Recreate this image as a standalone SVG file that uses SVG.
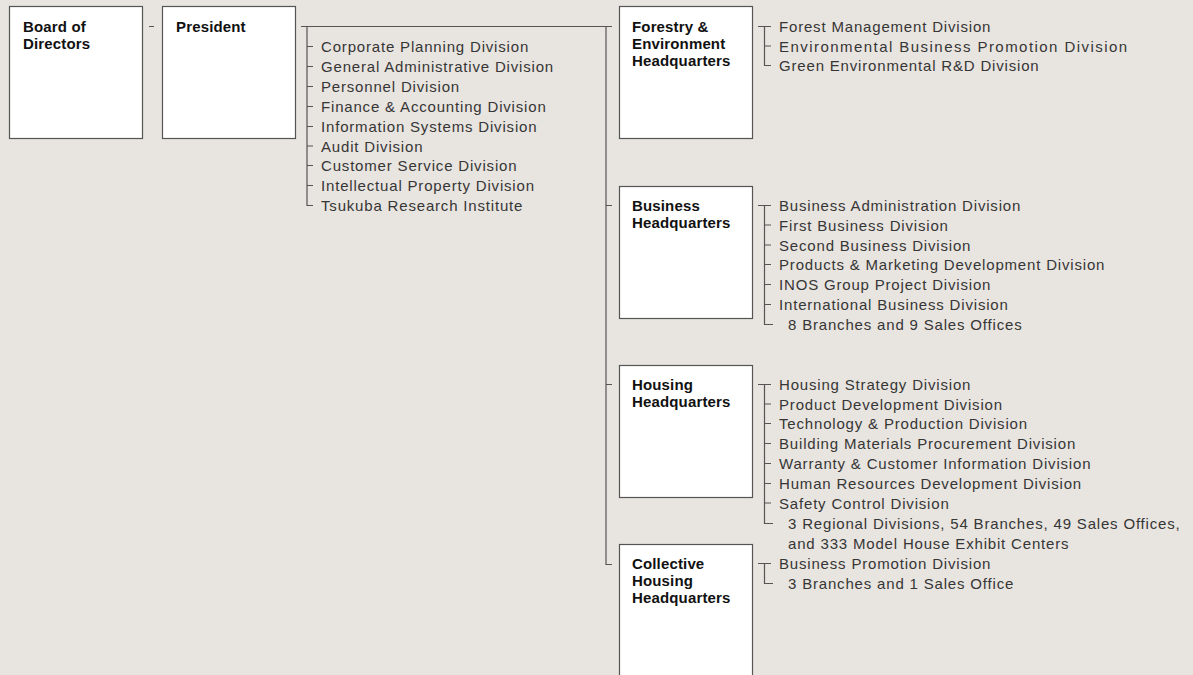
<svg xmlns="http://www.w3.org/2000/svg" width="1193" height="675" viewBox="0 0 1193 675">
<style>
.bg{fill:#e8e4df}
.box{fill:#ffffff;stroke:#555555;stroke-width:1.2}
.t{font-family:"Liberation Sans",Arial,sans-serif;font-size:15px;font-weight:bold;fill:#111111;letter-spacing:0.15px}
.d{font-family:"Liberation Sans",Arial,sans-serif;font-size:15px;fill:#363636;letter-spacing:0.82px}
.ln{fill:none;stroke:#555555;stroke-width:1.2}
</style>
<rect class="bg" x="0" y="0" width="1193" height="675"/>
<g id="connectors">
<path class="ln" d="M10,26.5H14.5 M149,26.5H154 M163,26.5H167.5"/>
<path class="ln" d="M301,26.5H612 M307,26.5V205.5H313 M307,46.5H313 M307,66.5H313 M307,86.5H313 M307,106.5H313 M307,126.5H313 M307,146H313 M307,165.5H313 M307,185.5H313"/>
<path class="ln" d="M606,26.5V564.5H612 M606,205.5H612 M606,384.5H612"/>
<path class="ln" d="M621,26.5H625.5 M621,205.5H625.5 M621,384.5H625.5 M621,564.5H625.5"/>
<path class="ln" d="M758,26.5H771 M764.5,26.5V65.5H771 M764.5,46H771"/>
<path class="ln" d="M758,205.5H771 M764.5,205.5V324.5H773 M764.5,225H771 M764.5,245H771 M764.5,264.5H771 M764.5,284.5H771 M764.5,304.5H771"/>
<path class="ln" d="M758,384.5H771 M764.5,384.5V523.5H773 M764.5,404H771 M764.5,423.5H771 M764.5,443.5H771 M764.5,463.5H771 M764.5,483.5H771 M764.5,503H771"/>
<path class="ln" d="M758,563.5H771 M764.5,563.5V583.5H773"/>
</g>
<g id="board">
<rect class="box" x="9.5" y="6.5" width="133" height="132"/>
<text class="t" x="23" y="32">Board of</text>
<text class="t" x="23" y="49">Directors</text>
</g>
<g id="president">
<rect class="box" x="162.5" y="6.5" width="133" height="132"/>
<text class="t" x="176" y="32">President</text>
</g>
<g id="corporate-divisions">
<text class="d" x="321" y="52">Corporate Planning Division</text>
<text class="d" x="321" y="72">General Administrative Division</text>
<text class="d" x="321" y="92">Personnel Division</text>
<text class="d" x="321" y="112">Finance &amp; Accounting Division</text>
<text class="d" x="321" y="132">Information Systems Division</text>
<text class="d" x="321" y="151.5">Audit Division</text>
<text class="d" x="321" y="171">Customer Service Division</text>
<text class="d" x="321" y="191">Intellectual Property Division</text>
<text class="d" x="321" y="211">Tsukuba Research Institute</text>
</g>
<g id="forestry">
<rect class="box" x="619.5" y="6.5" width="133" height="132"/>
<text class="t" x="632" y="32">Forestry &amp;</text>
<text class="t" x="632" y="49">Environment</text>
<text class="t" x="632" y="66">Headquarters</text>
</g>
<g id="forestry-divisions">
<text class="d" x="779" y="32">Forest Management Division</text>
<text class="d" x="779" y="51.5" textLength="349" lengthAdjust="spacing">Environmental Business Promotion Division</text>
<text class="d" x="779" y="71">Green Environmental R&amp;D Division</text>
</g>
<g id="business">
<rect class="box" x="619.5" y="186.5" width="133" height="132"/>
<text class="t" x="632" y="211">Business</text>
<text class="t" x="632" y="228">Headquarters</text>
</g>
<g id="business-divisions">
<text class="d" x="779" y="211">Business Administration Division</text>
<text class="d" x="779" y="230.5">First Business Division</text>
<text class="d" x="779" y="250.5">Second Business Division</text>
<text class="d" x="779" y="270">Products &amp; Marketing Development Division</text>
<text class="d" x="779" y="290">INOS Group Project Division</text>
<text class="d" x="779" y="310">International Business Division</text>
<text class="d" x="788" y="330">8 Branches and 9 Sales Offices</text>
</g>
<g id="housing">
<rect class="box" x="619.5" y="365.5" width="133" height="132"/>
<text class="t" x="632" y="390">Housing</text>
<text class="t" x="632" y="407">Headquarters</text>
</g>
<g id="housing-divisions">
<text class="d" x="779" y="390">Housing Strategy Division</text>
<text class="d" x="779" y="409.5">Product Development Division</text>
<text class="d" x="779" y="429">Technology &amp; Production Division</text>
<text class="d" x="779" y="449">Building Materials Procurement Division</text>
<text class="d" x="779" y="469">Warranty &amp; Customer Information Division</text>
<text class="d" x="779" y="489">Human Resources Development Division</text>
<text class="d" x="779" y="508.5">Safety Control Division</text>
<text class="d" x="788" y="529">3 Regional Divisions, 54 Branches, 49 Sales Offices,</text>
<text class="d" x="788" y="548.5">and 333 Model House Exhibit Centers</text>
</g>
<g id="collective">
<rect class="box" x="619.5" y="544.5" width="133" height="140"/>
<text class="t" x="632" y="569">Collective</text>
<text class="t" x="632" y="586">Housing</text>
<text class="t" x="632" y="603">Headquarters</text>
</g>
<g id="collective-divisions">
<text class="d" x="779" y="569">Business Promotion Division</text>
<text class="d" x="788" y="589">3 Branches and 1 Sales Office</text>
</g>
</svg>
